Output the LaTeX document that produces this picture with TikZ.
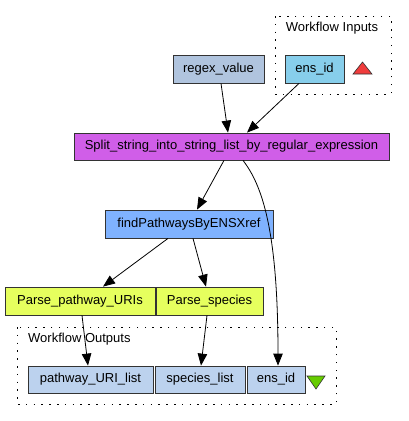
\documentclass[tikz,border=0pt]{standalone}
\usepackage{fontspec}
\setmainfont{Liberation Sans}
\usetikzlibrary{arrows.meta}
\definecolor{splitc}{RGB}{208,94,232}
\definecolor{findc}{RGB}{127,178,255}
\definecolor{parsec}{RGB}{230,255,94}
\definecolor{inpc}{RGB}{135,206,235}
\definecolor{regc}{RGB}{176,196,222}
\definecolor{outc}{RGB}{188,210,238}
\definecolor{redt}{RGB}{240,60,60}
\definecolor{greent}{RGB}{102,204,0}
\tikzset{
  box/.style={draw=black!80, line width=0.8pt, inner sep=0pt, font=\fontsize{13}{15}\selectfont},
  cluster/.style={draw=black, line width=1pt, dash pattern=on 1.5pt off 6.3pt},
  edge/.style={-{Triangle[length=12pt,width=9.5pt]}, line width=0.8pt},
  lbl/.style={font=\fontsize{13}{15}\selectfont, inner sep=0pt}
}
\begin{document}
\begin{tikzpicture}[x=1pt,y=-1pt]
\useasboundingbox (0,0) rectangle (408,421);
% clusters
\draw[cluster] (275,16) rectangle (391,94);
\node[lbl] (inlbl) at (332,28.5) {Workflow Inputs};
\draw[cluster] (17,327) rectangle (336,404);
\node[lbl, anchor=west] (outlbl) at (28,339.5) {Workflow Outputs};
% nodes
\node[box, fill=inpc, minimum width=59pt, minimum height=28pt] (ensin) at (314.5,69) {ens\_id};
\node[box, fill=regc, minimum width=91pt, minimum height=28pt] (regex) at (218.5,69) {regex\_value};
\node[box, fill=splitc, minimum width=315pt, minimum height=27pt] (split) at (231.5,146.5) {Split\_string\_into\_string\_list\_by\_regular\_expression};
\node[box, fill=findc, minimum width=168pt, minimum height=28pt] (find) at (189,224) {findPathwaysByENSXref};
\node[box, fill=parsec, minimum width=150pt, minimum height=28pt] (ppu) at (80,301) {Parse\_pathway\_URIs};
\node[box, fill=parsec, minimum width=107pt, minimum height=28pt] (psp) at (209.5,301) {Parse\_species};
\node[box, fill=outc, minimum width=125pt, minimum height=27pt] (pul) at (90.5,379.5) {pathway\_URI\_list};
\node[box, fill=outc, minimum width=90pt, minimum height=27pt] (spl) at (200,379.5) {species\_list};
\node[box, fill=outc, minimum width=58pt, minimum height=27pt] (ensout) at (276,379.5) {ens\_id};
% triangles
\draw[draw=black!80, fill=redt, line width=0.6pt] (353,74) -- (372,74) -- (362.5,62) -- cycle;
\draw[draw=black!80, fill=greent, line width=0.6pt] (307,376) -- (325,376) -- (316,389) -- cycle;
% edges
\draw[edge] (regex.south -| 221,0) -- (split.north -| 228,0);
\draw[edge] (ensin.south -| 299,0) -- (split.north -| 247,0);
\draw[edge] (split.south -| 224,0) -- (find.north -| 197,0);
\draw[edge] (split.south -| 243,0) .. controls (262,185) and (278,230) .. (ensout.north -| 278,0);
\draw[edge] (find.south -| 168,0) -- (ppu.north -| 103,0);
\draw[edge] (find.south -| 193,0) -- (psp.north -| 206,0);
\draw[edge] (ppu.south -| 82,0) -- (pul.north -| 88,0);
\draw[edge] (psp.south -| 207,0) -- (spl.north -| 201,0);
\end{tikzpicture}
\end{document}
